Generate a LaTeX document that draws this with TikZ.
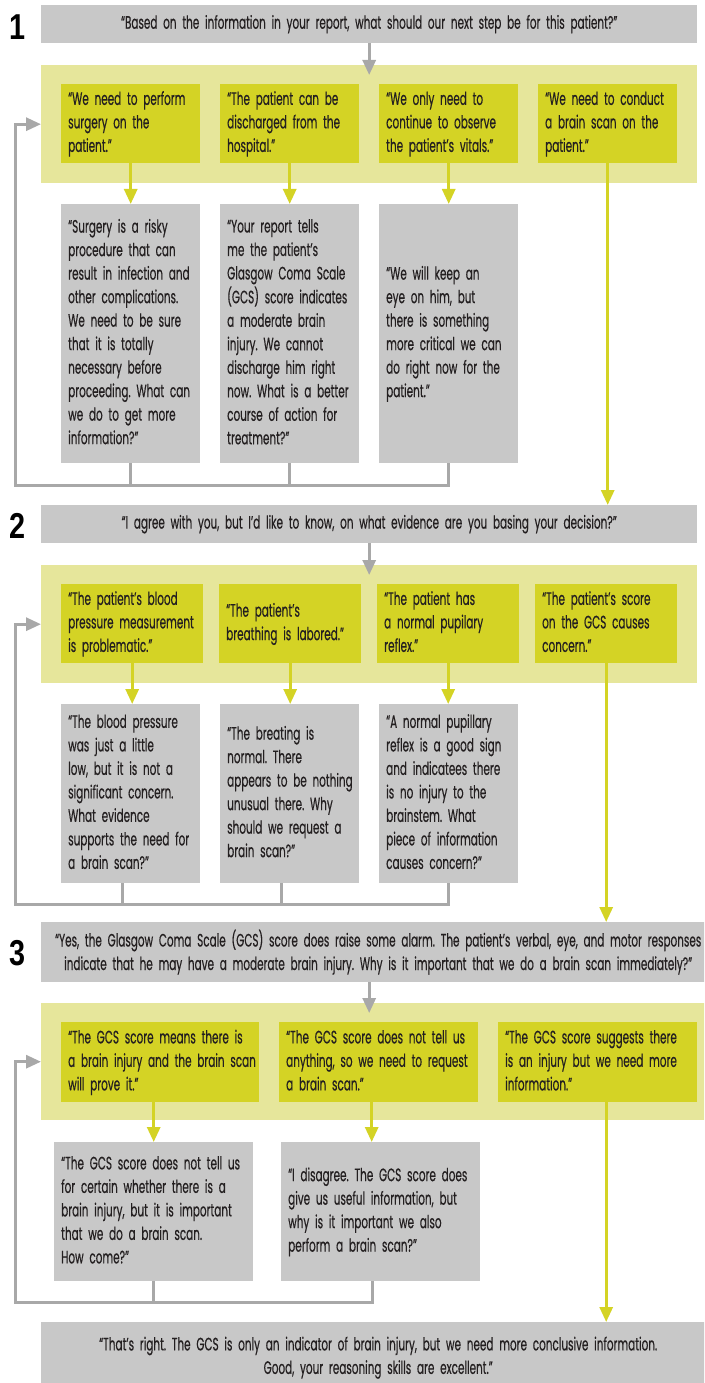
\documentclass[tikz,border=0pt]{standalone}
\usepackage{fontspec}
\setmainfont[FakeStretch=0.58, FakeBold=0.4]{Poppins}
\newfontfamily\numfont[FakeStretch=0.8]{Liberation Sans}
\usetikzlibrary{arrows.meta}

\definecolor{boxgrey}{HTML}{C8C8C8}
\definecolor{linegrey}{HTML}{A8A8A8}
\definecolor{panelyellow}{HTML}{E6E69B}
\definecolor{ansyellow}{HTML}{D4D325}
\definecolor{ink}{HTML}{231F20}

% lines kept as typed, never broken again
\newcommand{\says}[1]{\begin{tabular}{@{}l@{}}#1\end{tabular}}
\newcommand{\gaps}{\spaceskip=.32em\xspaceskip=.32em}

\tikzset{
  txt/.style={font=\fontsize{18}{23.5}\selectfont, text=ink, inner sep=0pt, anchor=north west,
    execute at begin node=\gaps},
  question/.style={txt, fill=boxgrey, align=center},
  panel/.style={fill=panelyellow, inner sep=0pt, anchor=north west},
  answer/.style={txt, fill=ansyellow, align=left, inner xsep=7pt},
  reply/.style={txt, fill=boxgrey, align=left, inner xsep=7pt},
  yarrow/.style={draw=ansyellow, line width=3pt, -{Triangle[width=13pt,length=15pt]}},
  garrow/.style={draw=linegrey, line width=3pt, -{Triangle[width=13pt,length=15pt]}},
  gline/.style={draw=linegrey, line width=3pt},
  num/.style={font=\numfont\bfseries\fontsize{36}{36}\selectfont, text=black}
}

\begin{document}
\begin{tikzpicture}[x=1pt, y=-1pt]
    \clip (0,0) rectangle (704,1383);

    % step 1
    \node[num] (n1) at (18,27) {1};
    \node[question, minimum width=656pt, minimum height=38pt] (q1) at (41,5)
        {“Based on the information in your report, what should our next step be for this patient?”};
    \node[panel, minimum width=656pt, minimum height=118pt] (p1) at (41,65) {};
    \node[answer, text width=125pt, minimum height=79pt] (a11) at (61,84)
        {\says{“We need to perform\\surgery on the\\patient.”}};
    \node[answer, text width=125pt, minimum height=79pt] (a12) at (220,84)
        {\says{“The patient can be\\discharged from the\\hospital.”}};
    \node[answer, text width=125pt, minimum height=79pt] (a13) at (379,84)
        {\says{“We only need to\\continue to observe\\the patient’s vitals.”}};
    \node[answer, text width=125pt, minimum height=79pt] (a14) at (538,84)
        {\says{“We need to conduct\\a brain scan on the\\patient.”}};
    \node[reply, text width=125pt, minimum height=259pt] (r11) at (61,204)
        {\says{“Surgery is a risky\\procedure that can\\result in infection and\\other complications.\\We need to be sure\\that it is totally\\necessary before\\proceeding. What can\\we do to get more\\information?”}};
    \node[reply, text width=125pt, minimum height=259pt] (r12) at (220,204)
        {\says{“Your report tells\\me the patient’s\\Glasgow Coma Scale\\(GCS) score indicates\\a moderate brain\\injury. We cannot\\discharge him right\\now. What is a better\\course of action for\\treatment?”}};
    \node[reply, text width=125pt, minimum height=259pt] (r13) at (379,204)
        {\says{“We will keep an\\eye on him, but\\there is something\\more critical we can\\do right now for the\\patient.”}};
    \coordinate (back1) at (15,485);

    \draw[garrow] (q1.south) -- ([yshift=-10pt]p1.north);
    \foreach \i in {1,2,3}
        \draw[yarrow] (a1\i.south) -- (r1\i.north);
    \draw[gline] (r11.south) -- (r11.south |- back1);
    \draw[gline] (r12.south) -- (r12.south |- back1);
    \draw[garrow] (r13.south) |- (back1) |- (p1.west);

    % step 2
    \node[num] (n2) at (18,526) {2};
    \node[question, minimum width=656pt, minimum height=38pt] (q2) at (41,505)
        {“I agree with you, but I’d like to know, on what evidence are you basing your decision?”};
    \draw[yarrow] (a14.south) -- (a14.south |- q2.north);
    \node[panel, minimum width=656pt, minimum height=118pt] (p2) at (41,565) {};
    \node[answer, text width=128pt, minimum height=79pt] (a21) at (61,584)
        {\says{“The patient’s blood\\pressure measurement\\is problematic.”}};
    \node[answer, text width=128pt, minimum height=79pt] (a22) at (219,584)
        {\says{“The patient’s\\breathing is labored.”}};
    \node[answer, text width=128pt, minimum height=79pt] (a23) at (377,584)
        {\says{“The patient has\\a normal pupilary\\reflex.”}};
    \node[answer, text width=128pt, minimum height=79pt] (a24) at (535,584)
        {\says{“The patient’s score\\on the GCS causes\\concern.”}};
    \node[reply, text width=125pt, minimum height=179pt] (r21) at (61,704)
        {\says{“The blood pressure\\was just a little\\low, but it is not a\\significant concern.\\What evidence\\supports the need for\\a brain scan?”}};
    \node[reply, text width=125pt, minimum height=179pt] (r22) at (220,704)
        {\says{“The breating is\\normal. There\\appears to be nothing\\unusual there. Why\\should we request a\\brain scan?”}};
    \node[reply, text width=125pt, minimum height=179pt] (r23) at (379,704)
        {\says{“A normal pupillary\\reflex is a good sign\\and indicatees there\\is no injury to the\\brainstem. What\\piece of information\\causes concern?”}};
    \coordinate (back2) at (15,904);

    \draw[garrow] (q2.south) -- ([yshift=-10pt]p2.north);
    \foreach \i in {1,2,3}
        \draw[yarrow] (a2\i.south) -- (a2\i.south |- r2\i.north);
    \draw[gline] ([xshift=-8pt]r21.south) -- ([xshift=-8pt]r21.south |- back2);
    \draw[gline] ([xshift=-8pt]r22.south) -- ([xshift=-8pt]r22.south |- back2);
    \draw[garrow] (r23.south) |- (back2) |- (p2.west);

    % step 3
    \node[num] (n3) at (18,953) {3};
    \node[question, minimum width=674pt, minimum height=60pt] (q3) at (41,922)
        {“Yes, the Glasgow Coma Scale (GCS) score does raise some alarm. The patient’s verbal, eye, and motor responses\\indicate that he may have a moderate brain injury. Why is it important that we do a brain scan immediately?”};
    \draw[yarrow] (a24.south) -- (a24.south |- q3.north);
    \node[panel, minimum width=674pt, minimum height=117pt] (p3) at (41,1003) {};
    \node[answer, text width=184pt, minimum height=80pt] (a31) at (61,1022)
        {\says{“The GCS score means there is\\a brain injury and the brain scan\\will prove it.”}};
    \node[answer, text width=185pt, minimum height=80pt] (a32) at (279,1022)
        {\says{“The GCS score does not tell us\\anything, so we need to request\\a brain scan.”}};
    \node[answer, text width=185pt, minimum height=80pt] (a33) at (498,1022)
        {\says{“The GCS score suggests there\\is an injury but we need more\\information.”}};
    \node[reply, text width=185pt, minimum height=139pt] (r31) at (54,1142)
        {\says{“The GCS score does not tell us\\for certain whether there is a\\brain injury, but it is important\\that we do a brain scan.\\How come?”}};
    \node[reply, text width=185pt, minimum height=139pt] (r32) at (281,1142)
        {\says{“I disagree. The GCS score does\\give us useful information, but\\why is it important we also\\perform a brain scan?”}};
    \node[question, minimum width=674pt, minimum height=71pt] (fin) at (41,1322)
        {“That’s right. The GCS is only an indicator of brain injury, but we need more conclusive information.\\Good, your reasoning skills are excellent.”};
    \coordinate (back3) at (15,1302);

    \draw[garrow] ([xshift=-9pt]q3.south) -- ([xshift=-9pt,yshift=-10pt]p3.north);
    \draw[yarrow] (a31.south -| r31.north) -- (r31.north);
    \draw[yarrow] ([xshift=-7pt]a32.south) -- ([xshift=-7pt]a32.south |- r32.north);
    \draw[yarrow] (a33.south -| a24.south) -- (a24.south |- fin.north);
    \draw[gline] (r31.south) -- (r31.south |- back3);
    \draw[garrow] ([xshift=-8pt]r32.south) |- (back3) |- (p3.west);
\end{tikzpicture}
\end{document}
